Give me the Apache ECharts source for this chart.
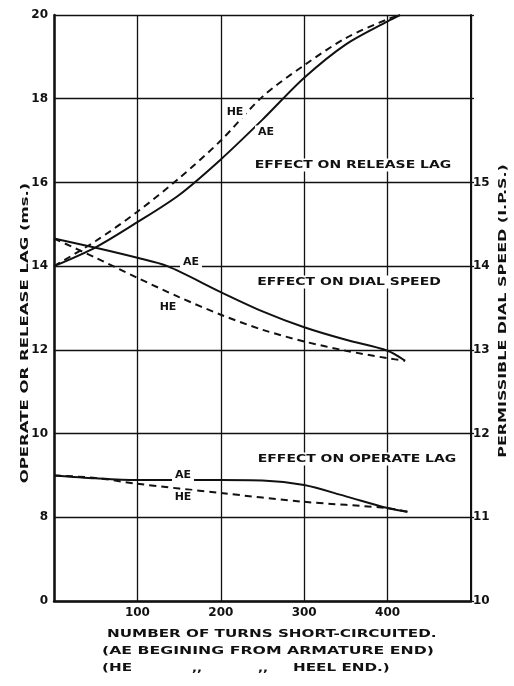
<!DOCTYPE html>
<html><head><meta charset="utf-8">
<script src="https://cdn.jsdelivr.net/npm/echarts@6/dist/echarts.min.js"></script>
<style>html,body{margin:0;padding:0;background:#fff}#c{width:514px;height:686px}</style>
</head><body><div id="c"></div>
<script>
// x values: number of turns short-circuited
const releaseAE_x = [0, 50, 100, 150, 200, 250, 300, 350, 400, 415];
const releaseAE_y = [14.0, 14.45, 15.05, 15.7, 16.55, 17.5, 18.5, 19.3, 19.85, 20.0];
const releaseHE_x = [0, 50, 100, 150, 200, 250, 300, 350, 400, 415];
const releaseHE_y = [14.0, 14.6, 15.3, 16.1, 17.0, 18.05, 18.8, 19.45, 19.9, 20.0];
// dial speed (I.P.S.), right axis
const dialAE_x = [0, 50, 100, 136, 200, 250, 300, 350, 400, 421];
const dialAE_y = [14.33, 14.22, 14.1, 14.0, 13.69, 13.46, 13.27, 13.12, 12.99, 12.87];
const dialHE_x = [0, 50, 100, 150, 200, 250, 300, 350, 400, 421];
const dialHE_y = [14.33, 14.1, 13.86, 13.63, 13.42, 13.24, 13.1, 12.99, 12.9, 12.87];
// operate lag (ms), left axis
const operAE_x = [0, 50, 100, 200, 250, 300, 350, 400, 424];
const operAE_y = [9.0, 8.93, 8.89, 8.89, 8.88, 8.77, 8.5, 8.22, 8.13];
const operHE_x = [0, 50, 100, 200, 300, 400, 424];
const operHE_y = [9.0, 8.94, 8.8, 8.58, 8.37, 8.22, 8.13];
// axis ticks
const xTicks = [100, 200, 300, 400];
const leftTicks = ['0', '8', '10', '12', '14', '16', '18', '20']; // broken axis: first step is 0
const rightTicks = ['10', '11', '12', '13', '14', '15'];

const zip = (xs, ys) => xs.map((x, i) => [x, ys[i]]);
const FONT = '"DejaVu Sans", sans-serif';
const chart = echarts.init(document.getElementById('c'));

const lineSolid = {type: 'solid', color: '#111', width: 2};
const lineDash = {type: [7, 5], color: '#111', width: 2};
function s(data, style, yIdx) {
  return {type: 'line', data: data, yAxisIndex: yIdx, symbol: 'none', smooth: 0.3,
    lineStyle: style, silent: true, animation: false, z: 5};
}

function txt(x, y, t, opts) {
  opts = opts || {};
  return {type: 'text', x: x, y: y, rotation: opts.rot || 0, scaleX: opts.sx || 1, z: 20,
    style: {text: t, font: 'bold ' + (opts.size || 11) + 'px ' + FONT,
      fill: '#111', align: opts.align || 'center', verticalAlign: 'middle',
      backgroundColor: opts.bg || null, padding: opts.bg ? [1, 3] : 0}};
}

chart.setOption({
  animation: false,
  backgroundColor: '#fff',
  grid: {left: 54, right: 43, top: 15, bottom: 85, containLabel: false},
  xAxis: {type: 'value', min: 0, max: 500, interval: 100,
    axisLine: {lineStyle: {color: '#111', width: 2.5}}, axisTick: {show: false},
    axisLabel: {formatter: v => xTicks.indexOf(v) >= 0 ? String(v) : '', color: '#111',
      fontFamily: FONT, fontWeight: 'bold', fontSize: 12, margin: 6},
    splitLine: {show: true, lineStyle: {color: '#111', width: 1.3}}},
  yAxis: [
    {type: 'value', min: 6, max: 20, interval: 2, position: 'left',
      axisLine: {show: true, lineStyle: {color: '#111', width: 2.5}}, axisTick: {show: false},
      axisLabel: {formatter: v => leftTicks[(v - 6) / 2] || '', color: '#111', fontFamily: FONT,
        fontWeight: 'bold', fontSize: 12, margin: 6},
      splitLine: {show: true, lineStyle: {color: '#111', width: 1.3}}},
    {type: 'value', min: 10, max: 17, interval: 1, position: 'right',
      axisLine: {show: true, lineStyle: {color: '#111', width: 2}},
      axisTick: {show: true, length: 3, inside: false, lineStyle: {color: '#111', width: 1.3}},
      axisLabel: {formatter: v => rightTicks.indexOf(String(v)) >= 0 ? String(v) : '', color: '#111',
        fontFamily: FONT, fontWeight: 'bold', fontSize: 12, margin: 2},
      splitLine: {show: false}}
  ],
  series: [
    s(zip(releaseAE_x, releaseAE_y), lineSolid, 0),
    s(zip(releaseHE_x, releaseHE_y), lineDash, 0),
    s(zip(dialAE_x, dialAE_y), lineSolid, 1),
    s(zip(dialHE_x, dialHE_y), lineDash, 1),
    s(zip(operAE_x, operAE_y), lineSolid, 0),
    s(zip(operHE_x, operHE_y), lineDash, 0)
  ],
  graphic: [
    txt(235, 112, 'HE', {bg: '#fff'}),
    txt(266, 132, 'AE', {bg: '#fff'}),
    txt(353, 165, 'EFFECT ON RELEASE LAG', {sx: 1.27, bg: '#fff'}),
    txt(191, 262, 'AE', {bg: '#fff'}),
    txt(349, 282, 'EFFECT ON DIAL SPEED', {sx: 1.27, bg: '#fff'}),
    txt(168, 307, 'HE', {bg: '#fff'}),
    txt(357, 459, 'EFFECT ON OPERATE LAG', {sx: 1.27, bg: '#fff'}),
    txt(183, 475, 'AE', {bg: '#fff'}),
    txt(183, 497, 'HE', {bg: '#fff'}),
    txt(25, 333, 'OPERATE OR RELEASE LAG (ms.)', {rot: Math.PI / 2, sx: 1.5}),
    txt(503, 311, 'PERMISSIBLE DIAL SPEED (I.P.S.)', {rot: Math.PI / 2, sx: 1.45}),
    txt(107, 634, 'NUMBER OF TURNS SHORT-CIRCUITED.', {align: 'left', sx: 1.38}),
    txt(102, 651, '(AE BEGINING FROM ARMATURE END)', {align: 'left', sx: 1.43}),
    txt(102, 668, '(HE', {align: 'left', sx: 1.38}),
    txt(197, 668, ',,', {sx: 1.2}),
    txt(263, 668, ',,', {sx: 1.2}),
    txt(293, 668, 'HEEL END.)', {align: 'left', sx: 1.38})
  ]
});
</script></body></html>
